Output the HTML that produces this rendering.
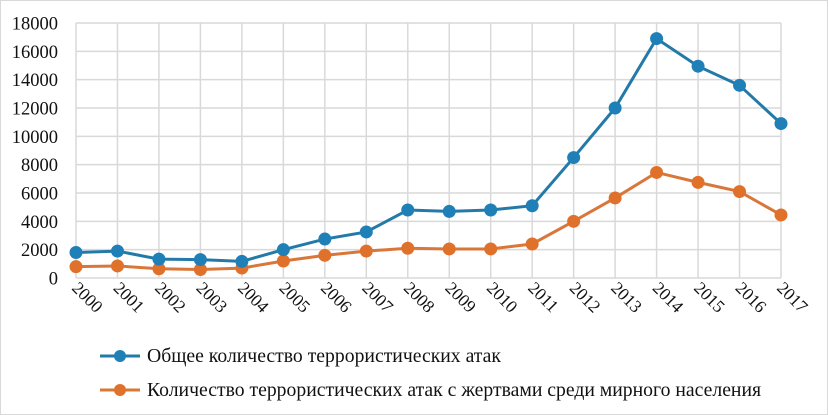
<!DOCTYPE html>
<html><head><meta charset="utf-8"><style>
body{margin:0;background:#fff;}
svg{display:block;font-family:"Liberation Serif",serif;}
</style></head><body>
<svg id="chart" width="828" height="415" viewBox="0 0 828 415" xmlns="http://www.w3.org/2000/svg">
<rect x="0.5" y="0.5" width="827" height="414" fill="#fff" stroke="#d9d9d9"/>
<g id="grid"></g><g id="axes"></g><g id="series"></g>
<g>
<g>
<line x1="100" y1="356" x2="140" y2="356" stroke="#237aa8" stroke-width="3"/>
<circle cx="120" cy="356" r="6" fill="#1f80b8"/>
<text x="147" y="362" font-size="19.7" fill="#111">Общее количество террористических атак</text>
</g>
<g>
<line x1="100" y1="390" x2="140" y2="390" stroke="#d9773a" stroke-width="3"/>
<circle cx="120" cy="390" r="6" fill="#e0712b"/>
<text x="147" y="396" font-size="19.7" fill="#111">Количество террористических атак с жертвами среди мирного населения</text>
</g>
</g>
</svg>
<script>
const years=["2000","2001","2002","2003","2004","2005","2006","2007","2008","2009","2010","2011","2012","2013","2014","2015","2016","2017"];
const totalAttacks=[1800,1900,1330,1300,1170,2000,2750,3250,4800,4700,4800,5100,8500,12000,16900,14950,13600,10900];
const civilianAttacks=[800,850,650,600,700,1200,1600,1900,2100,2050,2050,2400,4000,5650,7450,6750,6100,4450];
const yTicks=[0,2000,4000,6000,8000,10000,12000,14000,16000,18000];
const NS="http://www.w3.org/2000/svg";
const L=76,R=781,T=23,B=278,YMAX=18000;
function x(i){return L+i*(R-L)/(years.length-1);}
function y(v){return B-v/YMAX*(B-T);}
function mk(tag,attrs,parent){const e=document.createElementNS(NS,tag);for(const k in attrs)e.setAttribute(k,attrs[k]);parent.appendChild(e);return e;}
const grid=document.getElementById('grid'),axes=document.getElementById('axes'),series=document.getElementById('series');
yTicks.forEach(v=>{
  const l=mk('line',{x1:L,x2:R,y1:y(v),y2:y(v),stroke:'#d9d9d9','stroke-width':1.5},grid);
  
  
  const t=mk('text',{x:58,y:y(v)+6.5,'text-anchor':'end','font-size':18.5,fill:'#111'},axes);
  
  
  t.textContent=v;
});
years.forEach((yr,i)=>{
  const l=mk('line',{x1:x(i),x2:x(i),y1:T,y2:B,stroke:'#d9d9d9','stroke-width':1.5},grid);
  
  
  const t=mk('text',{x:0,y:0,'font-size':17.5,fill:'#111',transform:`translate(${x(i)-5},${B+11}) rotate(45)`},axes);
  
  
  t.textContent=yr;
});
function draw(vals,line,dot,name){
  const p=mk('polyline',{points:vals.map((v,i)=>x(i)+','+y(v)).join(' '),fill:'none',stroke:line,'stroke-width':3},series);
  
  
  vals.forEach((v,i)=>{
    const c=mk('circle',{cx:x(i),cy:y(v),r:6.5,fill:dot},series);
    
    
  });
}
draw(civilianAttacks,'#d9773a','#e0712b','civilian-attacks');
draw(totalAttacks,'#237aa8','#1f80b8','total-attacks');
</script>
</body></html>
